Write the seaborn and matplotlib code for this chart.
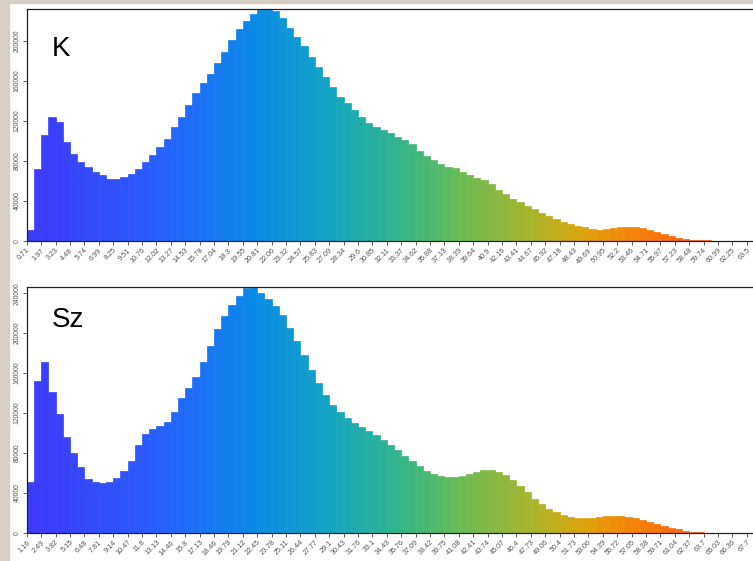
import numpy as np
import pandas as pd
import matplotlib
matplotlib.use("Agg")
import matplotlib.pyplot as plt
import seaborn as sns
from matplotlib.colors import LinearSegmentedColormap, to_hex
from matplotlib.patches import Rectangle

# bar heights, one value per bin (bin width ~0.63)
K_COUNTS = [
    11000, 72000, 106000, 124000, 119000, 99000, 87000, 79000, 74000, 69000,
    66000, 62000, 62000, 64000, 67000, 72000, 79000, 86000, 94000, 102000,
    114000, 124000, 136000, 148000, 158000, 167000, 178000, 189000, 201000, 212000,
    220000, 227000, 232000, 232000, 230000, 223000, 213000, 204000, 195000, 184000,
    174000, 164000, 154000, 144000, 138000, 131000, 124000, 118000, 114000, 111000,
    108000, 104000, 101000, 97000, 90000, 85000, 81000, 77000, 74000, 73000,
    69000, 66000, 63000, 61000, 57000, 51000, 47000, 42000, 39000, 35000,
    32000, 28000, 25000, 22000, 19000, 17000, 15000, 13400, 11500, 11000,
    11800, 12600, 13500, 13800, 13800, 12300, 10500, 8800, 6800, 4600,
    3100, 2000, 1100, 600, 200, 0, 0, 0, 0, 0, 0,
]
SZ_COUNTS = [
    51000, 152000, 171000, 141000, 119000, 96000, 80000, 66000, 54000, 51000,
    50000, 51000, 55000, 62000, 72000, 88000, 99000, 104000, 107000, 111000,
    121000, 135000, 145000, 156000, 171000, 187000, 204000, 217000, 228000, 237000,
    245000, 246000, 240000, 234000, 227000, 218000, 205000, 192000, 178000, 163000,
    150000, 138000, 128000, 121000, 115000, 110000, 106000, 102000, 98000, 93000,
    88000, 83000, 77000, 72000, 67000, 62000, 59000, 57000, 56000, 56000,
    57000, 59000, 61000, 63000, 63000, 61000, 57500, 53000, 46500, 41000,
    34000, 29000, 24000, 21000, 18000, 16000, 14600, 14400, 15000, 16000,
    16500, 16500, 16500, 16000, 14500, 13000, 11000, 9000, 7000, 5000,
    3500, 2000, 1000, 400, 0, 0, 0, 0, 0, 0, 0,
]

# break labels, shown at every second bin edge
K_LABELS = [
    "0.71", "1.97", "3.23", "4.48", "5.74", "6.99", "8.25", "9.51", "10.76", "12.02",
    "13.27", "14.53", "15.78", "17.04", "18.3", "19.55", "20.81", "22.06", "23.32", "24.57",
    "25.83", "27.09", "28.34", "29.6", "30.85", "32.11", "33.37", "34.62", "35.88", "37.13",
    "38.39", "39.64", "40.9", "42.16", "43.41", "44.67", "45.92", "47.18", "48.43", "49.69",
    "50.95", "52.2", "53.46", "54.71", "55.97", "57.23", "58.48", "59.74", "60.99", "62.25",
    "63.5",
]
SZ_LABELS = [
    "1.16", "2.49", "3.82", "5.15", "6.48", "7.81", "9.14", "10.47", "11.8", "13.13",
    "14.46", "15.8", "17.13", "18.46", "19.79", "21.12", "22.45", "23.78", "25.11", "26.44",
    "27.77", "29.1", "30.43", "31.76", "33.1", "34.43", "35.76", "37.09", "38.42", "39.75",
    "41.08", "42.41", "43.74", "45.07", "46.4", "47.73", "49.06", "50.4", "51.73", "53.06",
    "54.39", "55.72", "57.05", "58.38", "59.71", "61.04", "62.37", "63.7", "65.03", "66.36",
    "67.7",
]
K_YTICKS = [0, 40000, 80000, 120000, 160000, 200000]
SZ_YTICKS = [0, 40000, 80000, 120000, 160000, 200000, 240000]

sns.set_theme(style="white")
plt.rcParams['font.family'] = ['Liberation Sans', 'DejaVu Sans']

W, H = 753, 561
fig = plt.figure(figsize=(W / 100, H / 100), dpi=100)
fig.patch.set_facecolor("white")

# beige frame of the screenshot
fig.add_artist(Rectangle((0, 0), 9 / W, 1, transform=fig.transFigure,
                         color="#d7cfc5", zorder=-5))
fig.add_artist(Rectangle((0, 1 - 3 / H), 1, 3 / H, transform=fig.transFigure,
                         color="#d7cfc5", zorder=-5))

gradient = LinearSegmentedColormap.from_list("ramp", [
    (0.00, "#3d3bfa"), (0.17, "#2a5cff"), (0.31, "#0a8ae8"), (0.42, "#14a6c0"),
    (0.52, "#36b686"), (0.60, "#6cbc56"), (0.70, "#aab42a"), (0.77, "#dca40c"),
    (0.82, "#f28a0a"), (0.93, "#ff5c10"), (1.00, "#ff4a10"),
])

LEFT_PX, BAR_PX = 26.7, 7.2


def add_panel(top, bottom):
    return fig.add_axes([LEFT_PX / W, 1 - bottom / H, (W - LEFT_PX) / W, (bottom - top) / H])


def draw_panel(ax, counts, labels, yticks, ymax, name, name_y):
    df = pd.DataFrame({"bin": np.arange(len(counts)), "count": counts})
    n = len(counts)
    palette = {i: to_hex(gradient(i / (n - 1))) for i in df["bin"]}
    sns.barplot(data=df, x="bin", y="count", hue="bin", palette=palette,
                width=1.0, saturation=1, errorbar=None, legend=False,
                linewidth=0, ax=ax)
    for p in ax.patches:
        p.set_edgecolor(p.get_facecolor())
        p.set_linewidth(0.5)

    ax.set_xlim(-0.5, -0.5 + (W - LEFT_PX) / BAR_PX)
    ax.set_ylim(0, ymax)
    ax.set_xticks([2 * k - 0.5 for k in range(len(labels))])
    ax.set_xticklabels(labels, rotation=45, ha="right", rotation_mode="anchor",
                       fontsize=5.2, color="#555555")
    ax.set_yticks(yticks)
    ax.set_yticklabels([str(v) for v in yticks], rotation=90, va="center",
                       fontsize=4.9, color="#555555")
    ax.tick_params(axis="both", direction="out", length=3, width=0.6,
                   color="#444444", bottom=True, left=True, pad=1.5)
    ax.set_xlabel("")
    ax.set_ylabel("")
    for side in ["left", "bottom", "top"]:
        ax.spines[side].set_visible(True)
        ax.spines[side].set_color("#222222")
        ax.spines[side].set_linewidth(0.9)
    ax.spines["right"].set_visible(False)
    ax.set_facecolor("white")
    ax.text(0.035, name_y, name, transform=ax.transAxes, fontsize=20, color="black")


ax_k = add_panel(9.3, 240.7)
draw_panel(ax_k, K_COUNTS, K_LABELS, K_YTICKS, 231400, "K", 0.80)

ax_sz = add_panel(286.7, 532.7)
draw_panel(ax_sz, SZ_COUNTS, SZ_LABELS, SZ_YTICKS, 246600, "Sz", 0.835)

fig.savefig("out.png", dpi=100)
